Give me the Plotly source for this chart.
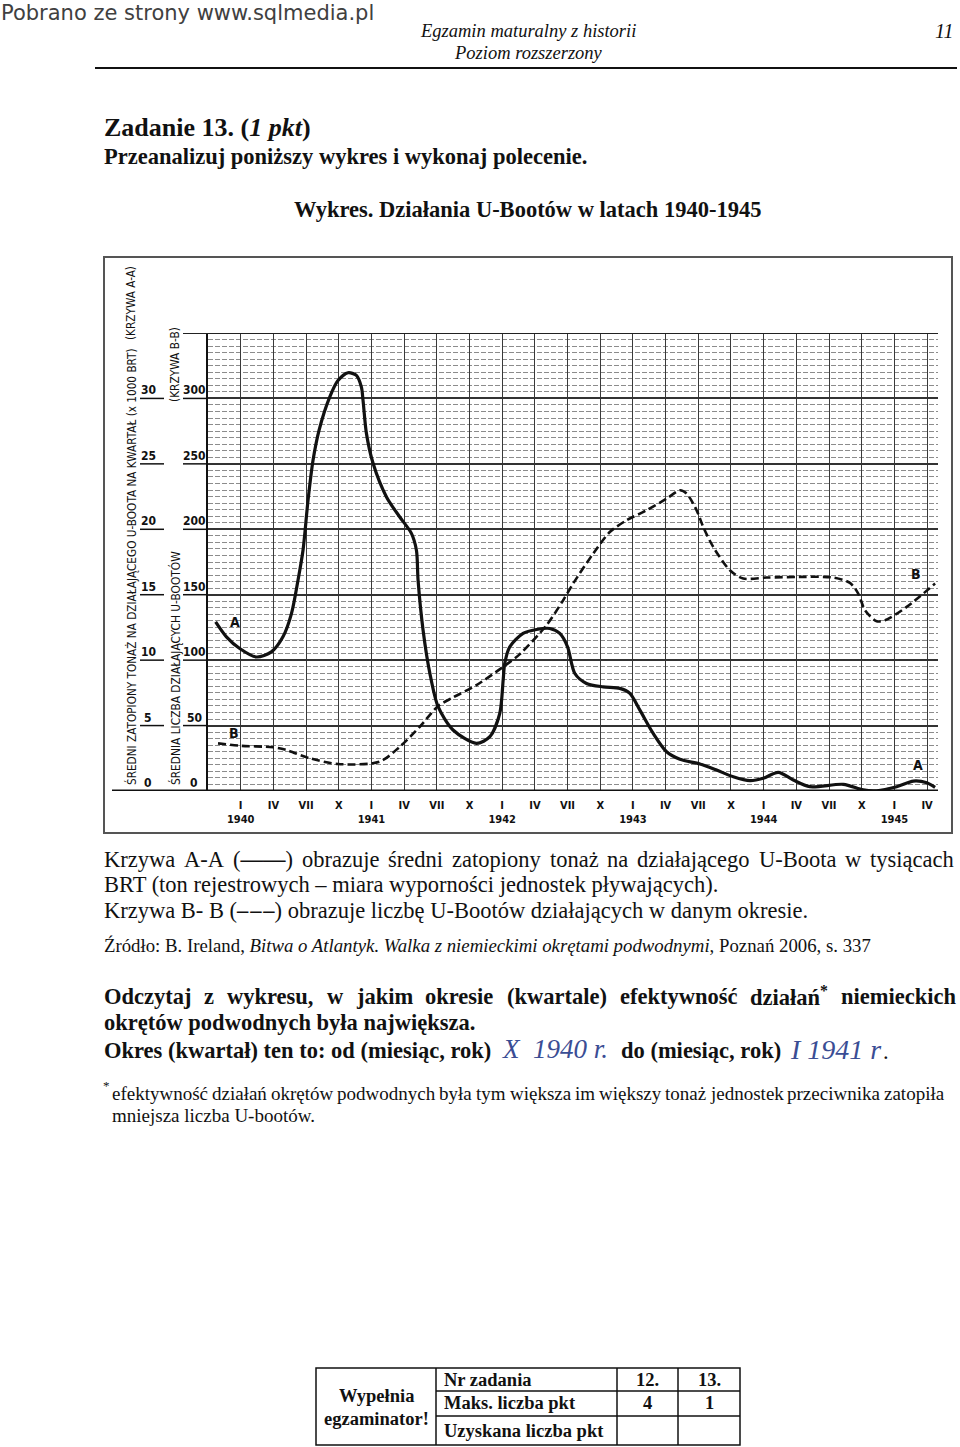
import re
import unicodedata
import plotly.graph_objects as go

# ---------------- data ----------------
# months counted from January 1940 (0 = I 1940)
A_MONTH = [-2.30, -1.31, -0.09, 1.44, 2.82, 3.88, 4.66, 5.26, 5.72, 6.18, 6.64, 7.19, 8.17, 8.93,
           9.85, 10.62, 11.08, 11.23, 11.54, 12.15, 13.38, 14.60, 15.67, 16.13, 16.28, 16.74, 17.36,
           18.12, 19.49, 21.64, 22.87, 23.78, 24.09, 24.24, 24.70, 25.92, 27.15, 28.37, 29.29, 30.0,
           30.67, 31.74, 33.27, 34.80, 35.72, 36.64, 37.86, 39.09, 40.31, 42.15, 43.68, 45.21, 46.74,
           47.96, 49.34, 50.72, 52.25, 55.31, 57.14, 58.37, 60.21, 61.74, 62.97, 63.73]
# average tonnage sunk per operating U-boat per quarter (x 1000 BRT)
A_VAL = [12.92, 11.78, 10.89, 10.24, 10.63, 11.78, 13.56, 16.11, 18.40, 22.21, 25.27, 27.56, 30.10,
         31.37, 31.96, 31.76, 30.86, 29.85, 27.33, 25.04, 22.47, 20.94, 19.69, 18.40, 16.11, 12.29,
         9.01, 6.44, 4.66, 3.64, 4.15, 5.93, 8.47, 9.77, 11.02, 12.04, 12.34, 12.42, 12.04, 11.02,
         8.98, 8.22, 7.96, 7.84, 7.46, 6.18, 4.40, 3.00, 2.42, 2.06, 1.60, 1.09, 0.79, 0.97, 1.43,
         0.84, 0.33, 0.51, 0.08, 0.02, 0.33, 0.76, 0.63, 0.28]

B_MONTH = [-2.08, -0.09, 2.97, 4.20, 6.34, 8.93, 12.76, 14.60, 16.44, 18.12, 19.49, 21.64, 24.09,
           25.62, 28.07, 29.60, 30.51, 32.35, 33.88, 35.42, 37.25, 39.09, 40.31, 40.93, 41.85, 42.45,
           43.37, 44.90, 46.12, 48.27, 51.33, 54.39, 55.92, 56.68, 57.30, 58.37, 59.14, 61.13, 63.73]
# average number of operating U-boats
B_VAL = [36.4, 34.6, 33.4, 31.3, 25.0, 20.6, 22.4, 33.8, 49.1, 64.9, 71.5, 80.9, 94.9, 104.6, 126.7,
         145.8, 158.5, 181.4, 197.9, 206.9, 214.5, 223.4, 229.8, 227.3, 214.5, 201.8, 186.5, 168.7,
         162.4, 163.1, 163.6, 163.1, 159.0, 150.9, 138.2, 129.8, 130.5, 140.7, 158.5]

TICK_MONTHS = [0, 3, 6, 9, 12, 15, 18, 21, 24, 27, 30, 33, 36, 39, 42, 45, 48, 51, 54, 57, 60, 63]
TICK_LABELS = ["I<br>1940", "IV", "VII", "X", "I<br>1941", "IV", "VII", "X", "I<br>1942", "IV", "VII",
               "X", "I<br>1943", "IV", "VII", "X", "I<br>1944", "IV", "VII", "X", "I<br>1945", "IV"]
A_TICKS = [0, 5, 10, 15, 20, 25, 30]
B_TICKS = [0, 50, 100, 150, 200, 250, 300]

# ---------------- page geometry ----------------
W, H = 960, 1447
ML, MR, MT, MB = 208, 22, 333, 656
PW = W - ML - MR
PH = H - MT - MB


def PX(px):
    return (px - ML) / PW


def PY(py):
    return (H - MB - py) / PH


SERIF = "Liberation Serif, Times New Roman, serif"
NARROW = "Liberation Sans Narrow, Arial Narrow, DejaVu Sans Condensed, sans-serif"
BLUE = "#3a4d94"

# Times-compatible advance widths (per 1000 em) for justification
_REG = dict(zip("abcdefghijklmnopqrstuvwxyz",
                [444, 500, 444, 500, 444, 333, 500, 500, 278, 278, 500, 278, 778, 500, 500, 500, 500,
                 333, 389, 278, 500, 500, 722, 500, 500, 444]))
_REG.update(zip("ABCDEFGHIJKLMNOPQRSTUVWXYZ",
                [722, 667, 667, 722, 611, 556, 722, 722, 333, 389, 722, 611, 889, 722, 722, 556, 722,
                 667, 556, 611, 722, 722, 944, 722, 722, 611]))
_REG.update({" ": 250, ".": 250, ",": 250, ":": 278, ";": 278, "(": 333, ")": 333, "-": 333,
             "–": 500, "—": 1000, "*": 350, "!": 333, "?": 444})
_BOLD = dict(zip("abcdefghijklmnopqrstuvwxyz",
                 [500, 556, 444, 556, 444, 333, 500, 556, 278, 333, 556, 278, 833, 556, 500, 556, 556,
                  444, 389, 333, 556, 500, 722, 500, 500, 444]))
_BOLD.update(zip("ABCDEFGHIJKLMNOPQRSTUVWXYZ",
                 [722, 667, 722, 722, 667, 611, 778, 778, 389, 500, 778, 667, 944, 722, 778, 611, 778,
                  722, 556, 667, 722, 722, 1000, 722, 722, 667]))
_BOLD.update({" ": 250, ".": 250, ",": 250, ":": 333, "(": 333, ")": 333, "-": 333, "*": 350,
              "!": 333})


def text_width(s, size, bold=False):
    tab = _BOLD if bold else _REG
    s = re.sub(r"<[^>]+>", "", s)
    w = 0
    for ch in s:
        c = ch
        if c not in tab:
            c = {"ł": "l", "Ł": "L"}.get(c, unicodedata.normalize("NFD", c)[0])
        w += tab.get(c, 500)
    return w * size / 1000.0


anns = []
shapes = []


def txt(s, px, py, size, family=SERIF, color="#111", xanchor="left", yanchor="middle", angle=0):
    anns.append(dict(text=s, x=PX(px), y=PY(py), xref="paper", yref="paper", xanchor=xanchor,
                     yanchor=yanchor, showarrow=False, borderpad=0, textangle=angle,
                     font=dict(size=size, family=family, color=color)))


def justify(words, x0, x1, py, size, bold=False, color="#111"):
    widths = [text_width(w, size, bold) for w in words]
    gap = (x1 - x0 - sum(widths)) / (len(words) - 1)
    x = x0
    for w, wd in zip(words, widths):
        txt("<b>%s</b>" % w if bold else w, x, py, size, color=color)
        x += wd + gap


def hline(x0, x1, py, width=1.5, color="#111"):
    shapes.append(dict(type="line", xref="paper", yref="paper", x0=PX(x0), x1=PX(x1),
                       y0=PY(py), y1=PY(py), line=dict(color=color, width=width)))


def vline(px, y0, y1, width=1.5, color="#111"):
    shapes.append(dict(type="line", xref="paper", yref="paper", x0=PX(px), x1=PX(px),
                       y0=PY(y0), y1=PY(y1), line=dict(color=color, width=width)))


# ---------------- page header ----------------
txt("Pobrano ze strony www.sqlmedia.pl", 0, 0, 21, family="DejaVu Sans, sans-serif", color="#404040",
    yanchor="top")
txt("<i>Egzamin maturalny z historii</i>", 528, 31, 18.5, xanchor="center")
txt("<i>Poziom rozszerzony</i>", 528, 53, 18.5, xanchor="center")
txt("<i>11</i>", 945, 31, 20, xanchor="center")
hline(95, 957, 68, width=2)

txt("<b>Zadanie 13. (<i>1 pkt</i>)</b>", 103, 128, 26)
txt("<b>Przeanalizuj poniższy wykres i wykonaj polecenie.</b>", 103, 156, 22.5)
txt("<b>Wykres. Działania U-Bootów w latach 1940-1945</b>", 293, 209, 22.5)

# ---------------- chart frame and axis decorations ----------------
shapes.append(dict(type="rect", xref="paper", yref="paper", x0=PX(104), x1=PX(952), y0=PY(833),
                   y1=PY(257), line=dict(color="#555", width=2), layer="below"))
# baseline
shapes.append(dict(type="line", xref="paper", yref="y", x0=PX(112), x1=1, y0=0, y1=0,
                   line=dict(color="#111", width=3)))
# top heavy line
shapes.append(dict(type="line", xref="paper", yref="y", x0=PX(183), x1=1, y0=35, y1=35,
                   line=dict(color="#222", width=2)))

for v in A_TICKS:
    anns.append(dict(text="<b>%d</b>" % v, x=PX(148), y=v, xref="paper", yref="y", xanchor="center",
                     yanchor="bottom", showarrow=False, borderpad=0,
                     font=dict(size=12, family=NARROW, color="#111")))
    if v > 0:
        shapes.append(dict(type="line", xref="paper", yref="y", x0=PX(140), x1=PX(164), y0=v, y1=v,
                           line=dict(color="#111", width=1.5)))
for v in B_TICKS:
    anns.append(dict(text="<b>%d</b>" % v, x=PX(194), y=v, xref="paper", yref="y2", xanchor="center",
                     yanchor="bottom", showarrow=False, borderpad=0,
                     font=dict(size=12, family=NARROW, color="#111")))
    if v > 0:
        shapes.append(dict(type="line", xref="paper", yref="y2", x0=PX(183), x1=PX(208), y0=v, y1=v,
                           line=dict(color="#111", width=1.5)))

txt("ŚREDNI ZATOPIONY TONAŻ NA DZIAŁAJĄCEGO U-BOOTA NA KWARTAŁ (x 1000 BRT)", 131, 567, 11.7,
    family=NARROW, xanchor="center", angle=-90)
txt("(KRZYWA A-A)", 131, 303, 11.7, family=NARROW, xanchor="center", angle=-90)
txt("ŚREDNIA LICZBA DZIAŁAJĄCYCH U-BOOTÓW", 175, 668, 11.8, family=NARROW, xanchor="center", angle=-90)
txt("(KRZYWA B-B)", 175, 365, 11.8, family=NARROW, xanchor="center", angle=-90)

# curve letters (placed in data coordinates)
for letter, mx, val in [("A", -0.55, 12.9), ("B", -0.64, 4.43), ("B", 61.98, 16.56), ("A", 62.17, 1.98)]:
    anns.append(dict(text="<b>%s</b>" % letter, x=mx, y=val, xref="x", yref="y", showarrow=False,
                     font=dict(size=14, family=NARROW, color="#111")))

# ---------------- text under the chart ----------------
LS = 22.5
justify(["Krzywa", "A-A", "(<b>——</b>)", "obrazuje", "średni", "zatopiony", "tonaż", "na",
         "działającego", "U-Boota", "w", "tysiącach"], 103, 953, 859, LS)
txt("BRT (ton rejestrowych – miara wyporności jednostek pływających).", 103, 884, LS)
txt("Krzywa B- B (<b>–\u200a–\u200a–</b>) obrazuje liczbę U-Bootów działających w danym okresie.",
    103, 910, LS)
txt("Źródło: B. Ireland, <i>Bitwa o Atlantyk. Walka z niemieckimi okrętami podwodnymi</i>, "
    "Poznań 2006, s. 337", 103, 945, 18.8)

QS = 22.5
justify(["Odczytaj", "z", "wykresu,", "w", "jakim", "okresie", "(kwartale)", "efektywność",
         "działań<sup>*</sup>", "niemieckich"], 103, 955, 996, QS, bold=True)
txt("<b>okrętów podwodnych była największa.</b>", 103, 1022, QS)
txt("<b>Okres (kwartał) ten to: od (miesiąc, rok)</b>", 103, 1050, QS)
txt("<i>X  1940 r.</i>", 501, 1049, 27, color=BLUE)
txt("<b>do (miesiąc, rok)</b>", 620, 1050, QS)
txt("<i>I 1941 r</i>", 789, 1049, 28, color=BLUE)
txt(".", 882, 1051, QS)

txt("*", 102, 1085, 13)
justify(["efektywność", "działań", "okrętów", "podwodnych", "była", "tym", "większa", "im",
         "większy", "tonaż", "jednostek", "przeciwnika", "zatopiła"], 111, 943, 1093, 19)
txt("mniejsza liczba U-bootów.", 111, 1115, 19)

# ---------------- examiner table ----------------
TX = [316, 436, 617, 678, 740]
TY = [1368, 1391, 1416, 1445]
shapes.append(dict(type="rect", xref="paper", yref="paper", x0=PX(TX[0]), x1=PX(TX[-1]),
                   y0=PY(TY[-1]), y1=PY(TY[0]), line=dict(color="#111", width=1.5)))
for x in TX[1:-1]:
    vline(x, TY[0], TY[-1])
for y in TY[1:-1]:
    hline(TX[1], TX[-1], y)
TS = 18.5
txt("<b>Wypełnia</b>", 376, 1396, TS, xanchor="center")
txt("<b>egzaminator!</b>", 376, 1419, TS, xanchor="center")
txt("<b>Nr zadania</b>", 443, 1380, TS)
txt("<b>Maks. liczba pkt</b>", 443, 1403, TS)
txt("<b>Uzyskana liczba pkt</b>", 443, 1431, TS)
for label, cx, cy in [("12.", 647, 1380), ("13.", 709, 1380), ("4", 647, 1403), ("1", 709, 1403)]:
    txt("<b>%s</b>" % label, cx, cy, TS, xanchor="center")

# ---------------- figure ----------------
fig = go.Figure()
fig.add_trace(go.Scatter(x=A_MONTH, y=A_VAL, mode="lines", yaxis="y", hoverinfo="skip",
                         line=dict(color="#111", width=3.2, shape="spline", smoothing=0.8)))
fig.add_trace(go.Scatter(x=B_MONTH, y=B_VAL, mode="lines", yaxis="y2", hoverinfo="skip",
                         line=dict(color="#111", width=2.6, dash="8px,4px", shape="spline",
                                   smoothing=0.8)))

fig.update_layout(
    width=W, height=H, margin=dict(l=ML, r=MR, t=MT, b=MB, pad=0),
    paper_bgcolor="white", plot_bgcolor="white", showlegend=False,
    font=dict(family=SERIF, color="#111"),
    xaxis=dict(range=[-3, 64], tickmode="array", tickvals=TICK_MONTHS, ticktext=TICK_LABELS,
               showgrid=True, gridcolor="#3a3a3a", gridwidth=1, zeroline=False, showline=False,
               ticks="", ticklabelstandoff=6,
               tickfont=dict(family=NARROW, size=11, color="#111", weight="bold")),
    yaxis=dict(range=[0, 35], tick0=0, dtick=5, showgrid=True, gridcolor="#333", gridwidth=2,
               minor=dict(dtick=0.5, showgrid=True, gridcolor="#8c8c8c", gridwidth=1,
                          griddash="5px,2px"),
               showticklabels=False, ticks="", zeroline=False, showline=True, linecolor="#111",
               linewidth=2),
    yaxis2=dict(range=[0, 350], overlaying="y", visible=False),
    annotations=anns, shapes=shapes,
)

fig.write_html("out.html", config={"displayModeBar": False})
